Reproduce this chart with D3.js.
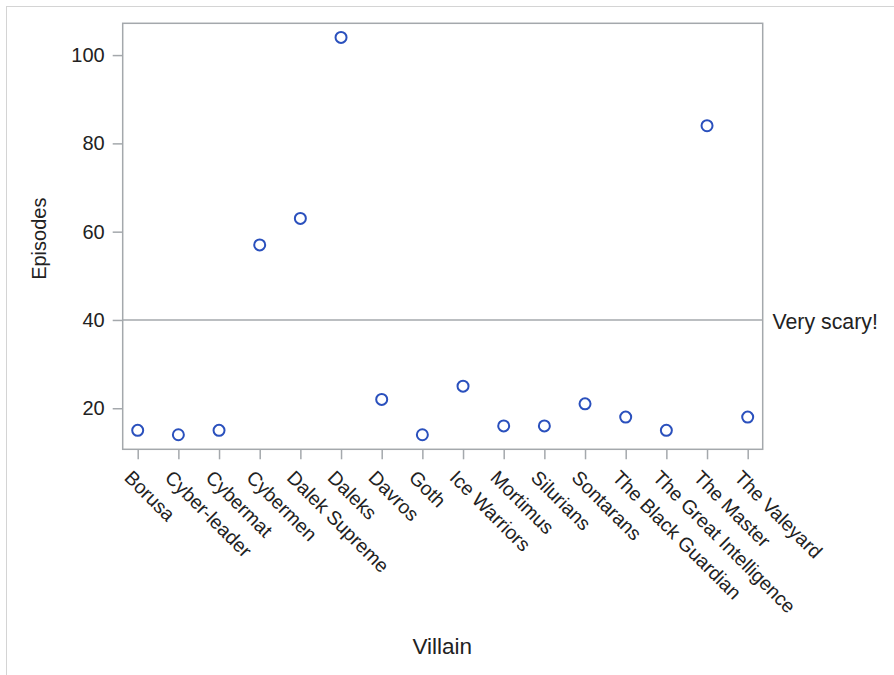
<!DOCTYPE html>
<html>
<head>
<meta charset="utf-8">
<script src="https://cdn.jsdelivr.net/npm/d3@7"></script>
<style>
  html, body { margin: 0; padding: 0; background: #fff; }
  svg { display: block; }
  text { font-family: "Liberation Sans", Arial, sans-serif; fill: #222; }
</style>
</head>
<body>
<svg id="chart" width="894" height="675"></svg>
<script>
const villains = ["Borusa", "Cyber-leader", "Cybermat", "Cybermen", "Dalek Supreme", "Daleks", "Davros", "Goth", "Ice Warriors", "Mortimus", "Silurians", "Sontarans", "The Black Guardian", "The Great Intelligence", "The Master", "The Valeyard"];
const episodes = [15, 14, 15, 57, 63, 104, 22, 14, 25, 16, 16, 21, 18, 15, 84, 18];
const yTicks = [20, 40, 60, 80, 100];
const refValue = 40;
const refLabel = "Very scary!";
const xTitle = "Villain";
const yTitle = "Episodes";

const svg = d3.select("#chart");
const frame = { left: 122.7, right: 762.7, top: 23.3, bottom: 449.3 };
const gray = "#a4a8ac";

// outer border
svg.append("rect").attr("x", 6.5).attr("y", 6.5).attr("width", 1000).attr("height", 1000)
  .attr("fill", "none").attr("stroke", "#d4d4d4").attr("stroke-width", 1);

const x = d3.scalePoint().domain(villains)
  .range([frame.left, frame.right]).padding(0.369);
const y = d3.scaleLinear().domain([10.7, 107.2]).range([frame.bottom, frame.top]);

// reference line
svg.append("line").attr("x1", frame.left).attr("x2", frame.right)
  .attr("y1", y(refValue)).attr("y2", y(refValue))
  .attr("stroke", gray).attr("stroke-width", 1.5);
svg.append("text").attr("x", 772.5).attr("y", y(refValue) + 8.8)
  .attr("font-size", "21.3px").text(refLabel);

// frame
svg.append("rect").attr("x", frame.left).attr("y", frame.top)
  .attr("width", frame.right - frame.left).attr("height", frame.bottom - frame.top)
  .attr("fill", "none").attr("stroke", gray).attr("stroke-width", 1.5);

// y axis
const yAxis = svg.append("g").attr("transform", `translate(${frame.left},0)`)
  .call(d3.axisLeft(y).tickValues(yTicks).tickSize(10).tickPadding(8));
yAxis.select(".domain").remove();
yAxis.selectAll(".tick line").attr("stroke", gray).attr("stroke-width", 1.5);
yAxis.selectAll(".tick text").attr("font-size", "20px").attr("fill", "#222")
  .attr("font-family", "Liberation Sans, Arial, sans-serif");

// x axis
const xAxis = svg.append("g").attr("transform", `translate(0,${frame.bottom})`)
  .call(d3.axisBottom(x).tickSize(10).tickPadding(0));
xAxis.select(".domain").remove();
xAxis.selectAll(".tick line").attr("stroke", gray).attr("stroke-width", 1.5);
xAxis.selectAll(".tick text")
  .attr("font-size", "19.5px").attr("fill", "#222")
  .attr("font-family", "Liberation Sans, Arial, sans-serif")
  .attr("text-anchor", "start").attr("dy", null).attr("y", null)
  .attr("transform", "translate(-15,29.5) rotate(45)");

// points
svg.append("g").selectAll("circle").data(villains).join("circle")
  .attr("cx", d => x(d))
  .attr("cy", (d, i) => y(episodes[i]))
  .attr("r", 5.5)
  .attr("fill", "none").attr("stroke", "#2a50bd").attr("stroke-width", 2);

// titles
svg.append("text").attr("x", 442.2).attr("y", 654.3).attr("text-anchor", "middle")
  .attr("font-size", "22.5px").text(xTitle);
svg.append("text").attr("transform", "translate(45.5,238.7) rotate(-90)")
  .attr("text-anchor", "middle").attr("font-size", "20px").text(yTitle);
</script>
</body>
</html>
